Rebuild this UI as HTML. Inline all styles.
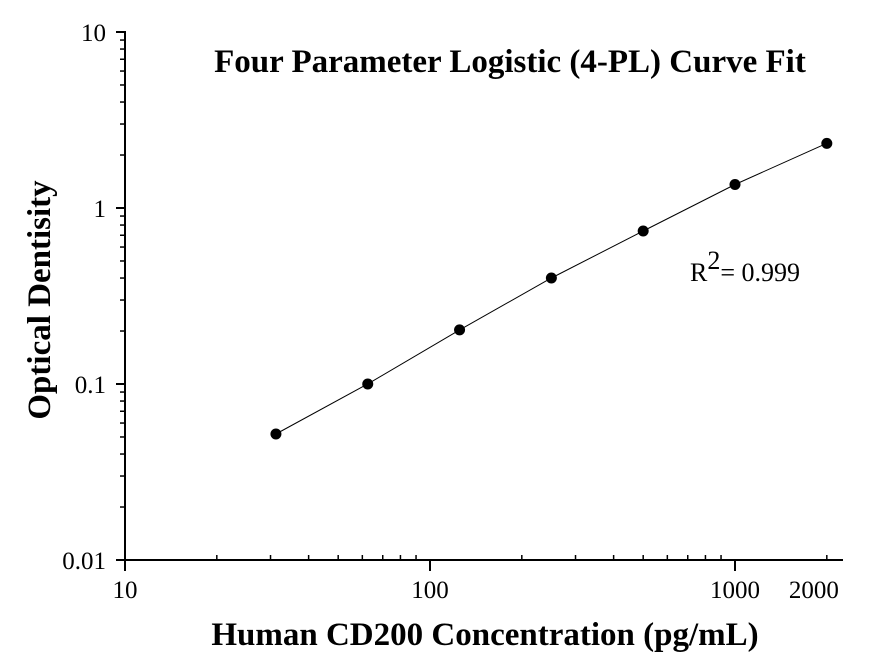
<!DOCTYPE html>
<html><head><style>body{margin:0;background:#fff}svg{display:block}</style></head><body>
<svg id="s" width="874" height="662" xmlns="http://www.w3.org/2000/svg" font-family="Liberation Serif, serif"></svg>
<script>
const s=document.getElementById('s');
const X=v=>125+305*(Math.log10(v)-1), Y=v=>384-176*(Math.log10(v)+1);
let h='';
h+='<line x1="125" y1="31" x2="125" y2="561" stroke="#000" stroke-width="2"/>';
h+='<line x1="124" y1="560" x2="843" y2="560" stroke="#000" stroke-width="2"/>';
[0.01,0.1,1,10].forEach((d,i)=>{h+=`<line x1="116" y1="${Y(d)}" x2="125" y2="${Y(d)}" stroke="#000" stroke-width="2"/>`;
 h+=`<text x="106" y="${Y(d)+9}" font-size="25" text-anchor="end">${['0.01','0.1','1','10'][i]}</text>`;
 if(d<10)for(let k=2;k<10;k++){let y=Y(d*k);h+=`<line x1="120" y1="${y}" x2="125" y2="${y}" stroke="#000" stroke-width="1.5"/>`;}});
[10,100,1000].forEach(d=>{h+=`<line x1="${X(d)}" y1="560" x2="${X(d)}" y2="571" stroke="#000" stroke-width="2"/>`;
 for(let k=2;k<10;k++){let v=d*k;if(v>2400)break;let x=X(v);h+=`<line x1="${x}" y1="555" x2="${x}" y2="560" stroke="#000" stroke-width="1.5"/>`;}});
[['10',10],['100',100],['1000',1000],['2000',2000]].forEach(([t,v])=>h+=`<text x="${X(v)+(v==2000?-13:0)}" y="598" font-size="25" text-anchor="middle">${t}</text>`);
const xs=[31.25,62.5,125,250,500,1000,2000],ys=[0.052,0.1,0.203,0.40,0.74,1.36,2.33];
let p=xs.map((x,i)=>`${X(x).toFixed(1)},${Y(ys[i]).toFixed(1)}`).join(' ');
h+=`<polyline points="${p}" fill="none" stroke="#000" stroke-width="1"/>`;
xs.forEach((x,i)=>h+=`<circle cx="${X(x)}" cy="${Y(ys[i])}" r="5.5" fill="#000"/>`);
h+='<text x="510" y="72" font-size="33" font-weight="bold" text-anchor="middle">Four Parameter Logistic (4-PL) Curve Fit</text>';
h+='<text x="690" y="281" font-size="26">R<tspan dy="-12" font-size="26">2</tspan><tspan dy="12">= 0.999</tspan></text>';
h+='<text x="485" y="645" font-size="33" font-weight="bold" text-anchor="middle">Human CD200 Concentration (pg/mL)</text>';
h+='<text transform="translate(50,300) rotate(-90)" font-size="33" font-weight="bold" text-anchor="middle">Optical Dentisity</text>';
s.innerHTML=h;
</script>
</body></html>
